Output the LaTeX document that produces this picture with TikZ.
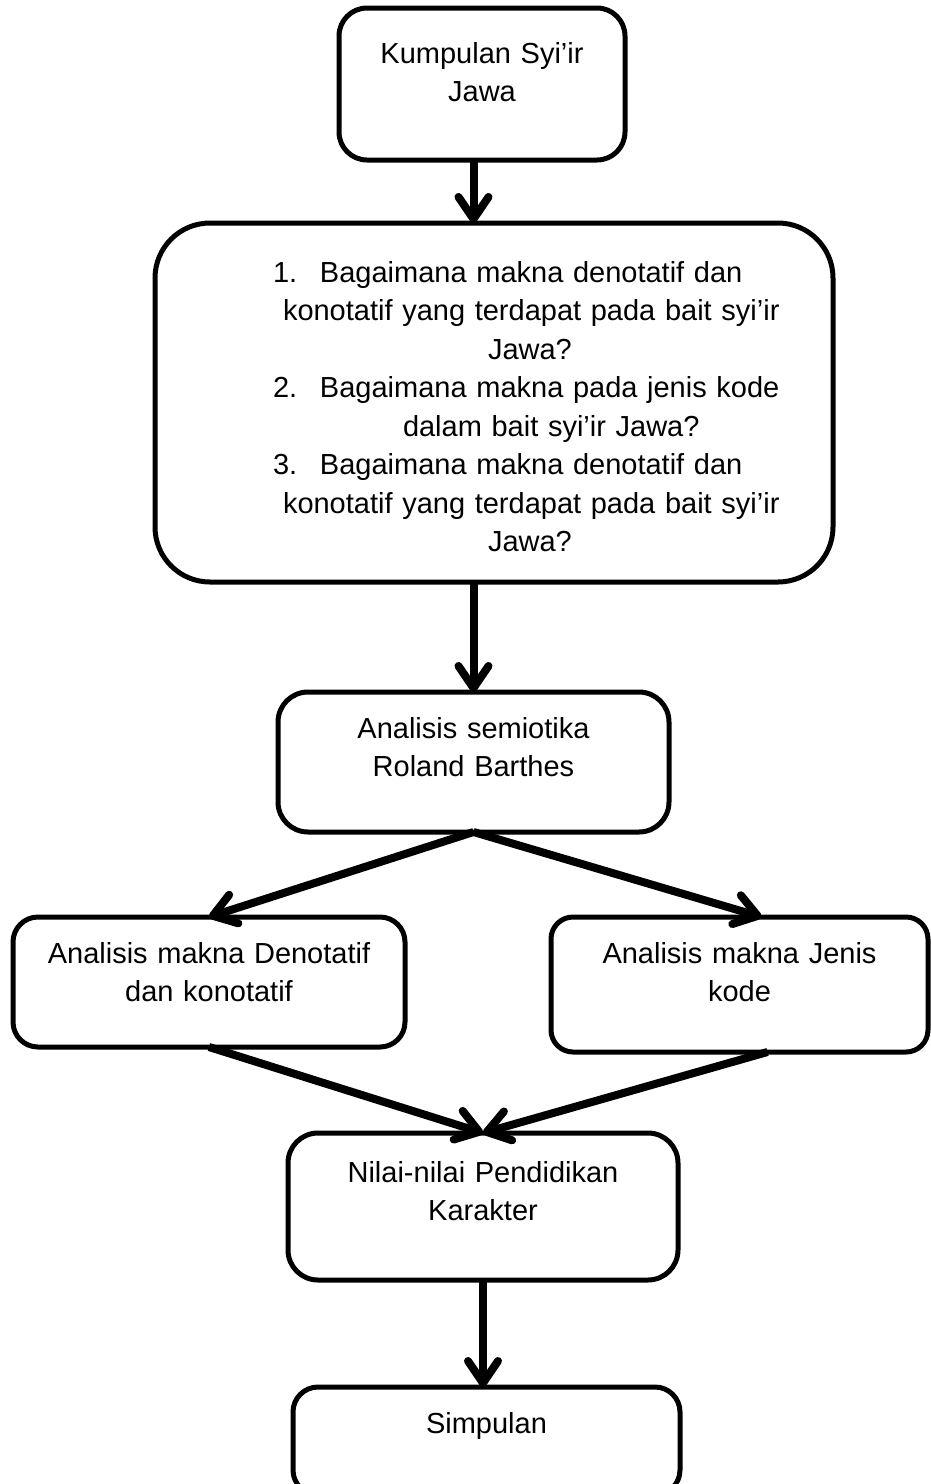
\documentclass[tikz,border=0pt]{standalone}
\usepackage{fontspec}
\setmainfont{Liberation Sans}
\usetikzlibrary{arrows.meta,positioning,calc}

\begin{document}
\begin{tikzpicture}[
    x=1pt, y=-1pt,
    box/.style={
        rectangle, draw, line width=5pt, rounded corners=28pt,
        anchor=north west, inner xsep=0pt, inner ysep=0pt, outer sep=0pt,
        align=center, font=\fontsize{29pt}{38.5pt}\selectfont
    },
    arrow/.style={->, >={Straight Barb[length=22pt, width=30pt, round]}, line width=8pt}
]
\useasboundingbox (0,0) rectangle (931,1484);

% Input
\node[box, text width=286pt, text height=55pt, text depth=97pt] (kumpulan) at (339,8) {Kumpulan Syi’ir\\Jawa};

% Research questions
\node[box, align=left, rounded corners=55pt, text width=678pt, text height=59pt, text depth=300pt] (rumusan) at (155,223) {%
\hspace*{118pt}\makebox[47pt][l]{1.}Bagaimana makna denotatif dan\\
\hspace*{128pt}konotatif yang terdapat pada bait syi’ir\\
\hspace*{333pt}Jawa?\\
\hspace*{118pt}\makebox[47pt][l]{2.}Bagaimana makna pada jenis kode\\
\hspace*{248pt}dalam bait syi’ir Jawa?\\
\hspace*{118pt}\makebox[47pt][l]{3.}Bagaimana makna denotatif dan\\
\hspace*{128pt}konotatif yang terdapat pada bait syi’ir\\
\hspace*{333pt}Jawa?};

% Analysis
\node[box, rounded corners=30pt, text width=391pt, text height=46pt, text depth=94pt] (semiotika) at (278,692) {Analisis semiotika\\Roland Barthes};
\node[box, rounded corners=25pt, text width=392pt, text height=46pt, text depth=84pt] (denotatif) at (13,917) {Analisis makna Denotatif\\dan konotatif};
\node[box, rounded corners=22pt, text width=377pt, text height=46pt, text depth=89pt] (jenis) at (551,917) {Analisis makna Jenis\\kode};

% Result
\node[box, rounded corners=30pt, text width=390pt, text height=49pt, text depth=98pt] (nilai) at (288,1133) {Nilai-nilai Pendidikan\\Karakter};
\node[box, rounded corners=25pt, text width=387pt, text height=46pt, text depth=62pt] (simpulan) at (293,1387) {Simpulan};

% Arrows
\draw[arrow] (kumpulan.south -| semiotika.north) -- (rumusan.north -| semiotika.north);
\draw[arrow] (rumusan.south -| semiotika.north) -- (semiotika.north);
\draw[arrow] (semiotika.south) -- (denotatif.north);
\draw[arrow] (semiotika.south) -- ([xshift=22pt]jenis.north);
\draw[arrow] (denotatif.south) -- (nilai.north);
\draw[arrow] ([xshift=28pt]jenis.south) -- (nilai.north);
\draw[arrow] (nilai.south) -- (nilai.south |- simpulan.north);

\end{tikzpicture}
\end{document}
